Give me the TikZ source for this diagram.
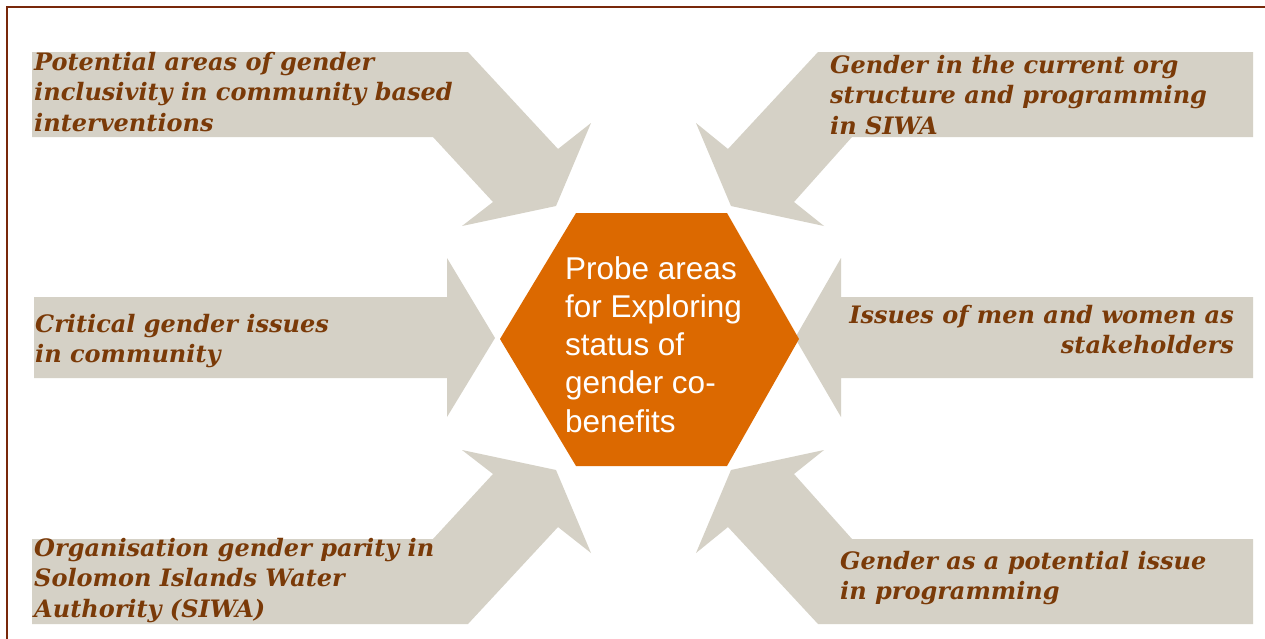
\documentclass[tikz,border=0pt]{standalone}
\usepackage{fontspec}
\setmainfont{Liberation Sans}
\newfontfamily\lblfont{DejaVu Serif}
\definecolor{band}{RGB}{213,209,198}
\definecolor{lbl}{RGB}{122,58,8}
\definecolor{hexo}{RGB}{220,105,0}
\definecolor{frame}{RGB}{120,40,10}
\newcommand\leftlines[1]{\vtop{\halign{##\hfil\cr #1\crcr}}}
\newcommand\rightlines[1]{\vtop{\halign{\hfil##\cr #1\crcr}}}
\tikzset{
  x=1pt, y=-1pt,
  arrowshape/.style={fill=band, draw=none},
  lbltext/.style={inner sep=0pt, text=lbl, font=\lblfont\bfseries\itshape\fontsize{24}{30.8}\selectfont},
  centertext/.style={inner sep=0pt, text=white, font=\fontsize{31.5}{38.3}\selectfont},
}
\begin{document}
\begin{tikzpicture}
\useasboundingbox (0,0) rectangle (1265,638);
\clip (0,0) rectangle (1265,638);
\fill[white] (0,0) rectangle (1265,638);
\draw[frame, line width=2.3pt] (7,7) rectangle (1300,700);
% arrows
\path[arrowshape] (32,52) -- (468,52) -- (558,149) -- (591,123) -- (556,206) -- (462,226) -- (493,202) -- (433,137) -- (32,137) -- cycle;
\path[arrowshape] (1253,52) -- (818,52) -- (728,149) -- (696,123) -- (731,206) -- (824,226) -- (794,202) -- (852,137) -- (1253,137) -- cycle;
\path[arrowshape] (34,297) -- (447,297) -- (447,258) -- (495,338) -- (447,417) -- (447,378) -- (34,378) -- cycle;
\path[arrowshape] (1253,297) -- (841,297) -- (841,258) -- (795,338) -- (841,417) -- (841,378) -- (1253,378) -- cycle;
\path[arrowshape] (32,624) -- (468,624) -- (558,527) -- (591,553) -- (556,470) -- (462,450) -- (493,474) -- (433,539) -- (32,539) -- cycle;
\path[arrowshape] (1253,624) -- (818,624) -- (728,527) -- (696,553) -- (731,470) -- (824,450) -- (794,474) -- (852,539) -- (1253,539) -- cycle;
% hexagon
\fill[hexo] (576,213) -- (727,213) -- (799,339) -- (727,466) -- (576,466) -- (500,339) -- cycle;
\node[centertext, anchor=base west] (center) at (565,279) {\leftlines{Probe areas\cr for Exploring\cr status of\cr gender co-\cr benefits}};
% labels
\node[lbltext, anchor=base west] (tl) at (34,70) {\leftlines{Potential areas of gender\cr inclusivity in community based\cr interventions}};
\node[lbltext, anchor=base west] (tr) at (830,73) {\leftlines{Gender in the current org\cr structure and programming\cr in SIWA}};
\node[lbltext, anchor=base west] (ml) at (35,332) {\leftlines{Critical gender issues\cr in community}};
\node[lbltext, anchor=base east] (mr) at (1234,323) {\rightlines{Issues of men and women as\cr stakeholders}};
\node[lbltext, anchor=base west] (bl) at (34,556) {\leftlines{Organisation gender parity in\cr Solomon Islands Water\cr Authority (SIWA)}};
\node[lbltext, anchor=base west] (br) at (840,569) {\leftlines{Gender as a potential issue\cr in programming}};
\end{tikzpicture}
\end{document}
